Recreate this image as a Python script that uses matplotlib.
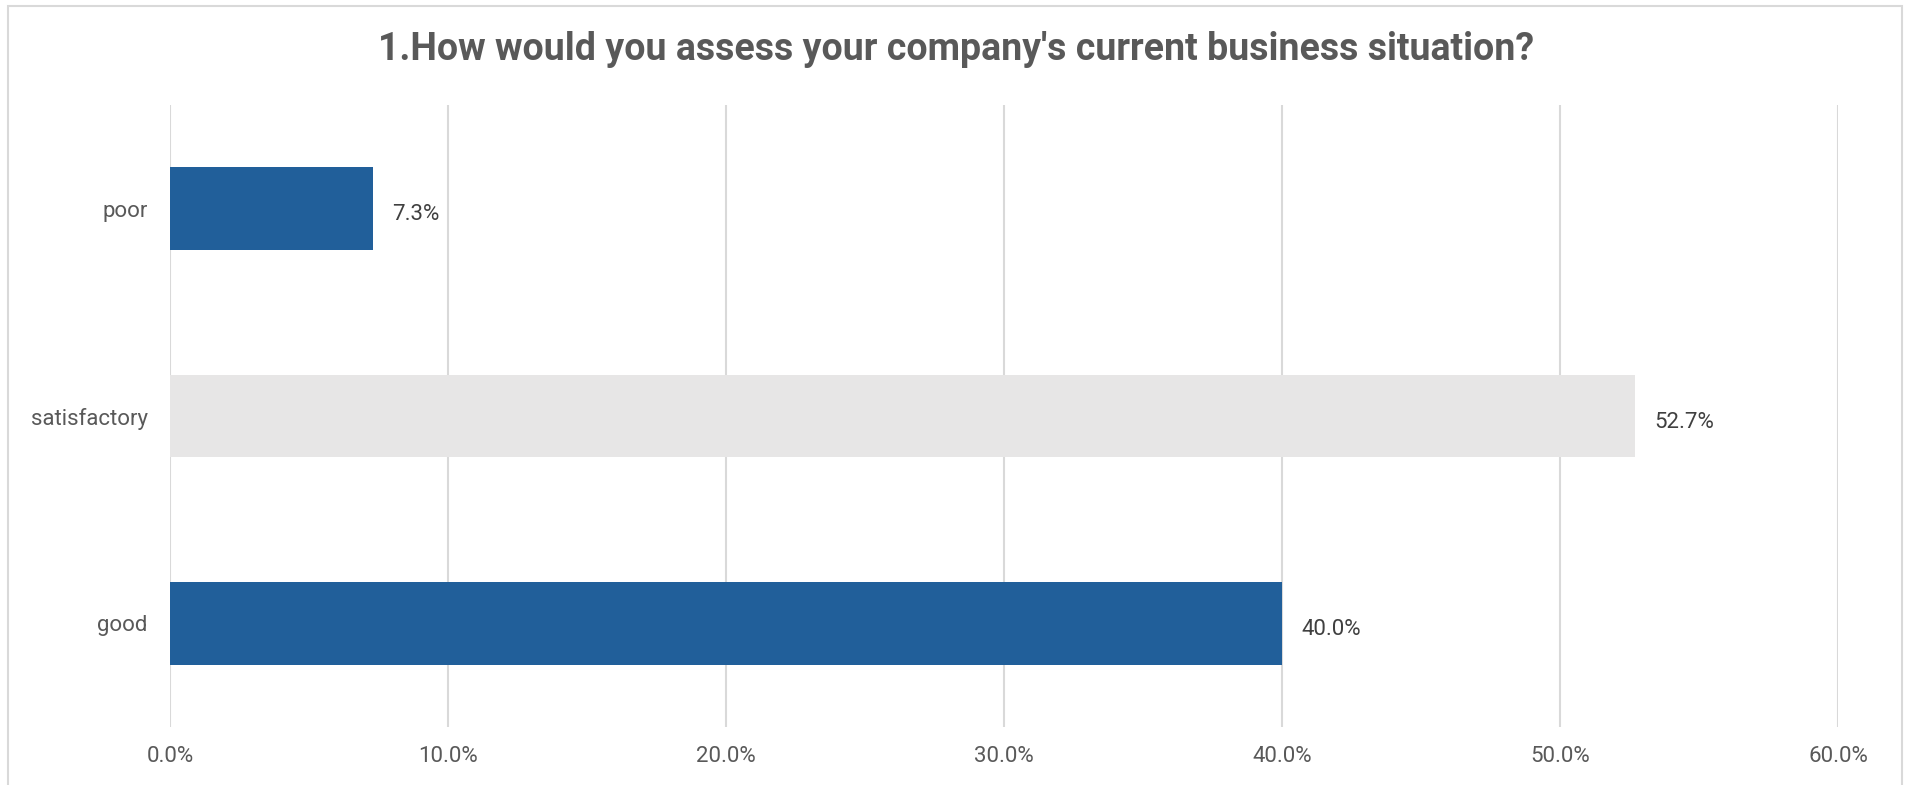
import matplotlib
matplotlib.use("Agg")
import matplotlib.pyplot as plt
from matplotlib.patches import Rectangle
from matplotlib.ticker import FuncFormatter

categories = ["good", "satisfactory", "poor"]
values = [40.0, 52.7, 7.3]
colors = ["#215F9A", "#E7E6E6", "#215F9A"]
xticks = [0, 10, 20, 30, 40, 50, 60]
title = "1.How would you assess your company's current business situation?"

plt.rcParams["font.family"] = ["Roboto", "DejaVu Sans"]

fig = plt.figure(figsize=(19.13, 7.85), dpi=100)
ax = fig.add_axes([170 / 1913, 1 - 727 / 785, (1838 - 170) / 1913, (727 - 105) / 785])

y = list(range(len(categories)))
bars = ax.barh(y, values, height=0.4, color=colors, zorder=3)

for b, v in zip(bars, values):
    ax.text(b.get_width() + 0.7, b.get_y() + b.get_height() / 2 - 0.03, f"{v:.1f}%",
            va="center", ha="left", fontsize=16, color="#404040")

ax.set_xlim(0, 60)
ax.set_ylim(-0.5, 2.5)
ax.set_xticks(xticks)
ax.xaxis.set_major_formatter(FuncFormatter(lambda x, p: f"{x:.1f}%"))
ax.set_yticks(y)
ax.set_yticklabels(categories)
ax.tick_params(axis="both", length=0, labelsize=16, colors="#595959")
ax.tick_params(axis="x", pad=14)
ax.tick_params(axis="y", pad=16)
ax.grid(axis="x", color="#D9D9D9", linewidth=1.5, zorder=0)
for s in ax.spines.values():
    s.set_visible(False)

fig.text(0.5, 1 - 50 / 785, title, ha="center", va="center",
         fontsize=27, fontweight="bold", color="#595959")

fig.patches.append(Rectangle((8 / 1913, -0.05), (1902 - 8) / 1913, 1.05 - 6 / 785,
                             transform=fig.transFigure, fill=False,
                             edgecolor="#D9D9D9", linewidth=1.5))

fig.savefig("out.png", dpi=100)
